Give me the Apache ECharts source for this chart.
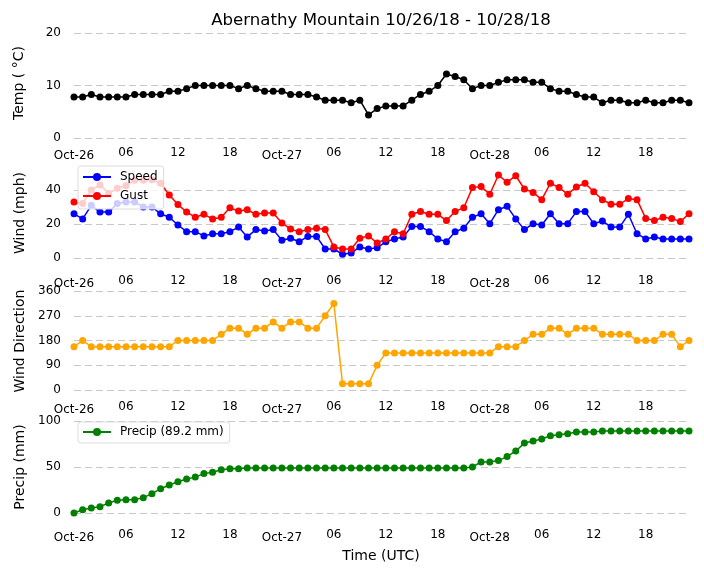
<!DOCTYPE html>
<html>
<head>
    <meta charset="utf-8"/>
    <title>Abernathy Mountain</title>
    <script src="https://cdn.jsdelivr.net/npm/echarts@6/dist/echarts.min.js"></script>
    <style>
        body { margin: 0; background: #fff; }
    </style>
</head>
<body>

<div id="main" style="width: 704px;height:573px;"></div>

<script>
    // hourly values, Oct-26 00 UTC .. Oct-28 23 UTC
    var hours = [];
    for (var i = 0; i < 72; i++) { hours.push(i); }

    var xTickLabels = ['Oct-26', '06', '12', '18', 'Oct-27', '06', '12', '18', 'Oct-28', '06', '12', '18'];

    var temp = [7.8, 7.8, 8.3, 7.8, 7.8, 7.8, 7.8, 8.3, 8.3, 8.3,
        8.3, 8.9, 8.9, 9.4, 10, 10, 10, 10, 10, 9.4,
        10, 9.4, 8.9, 8.9, 8.9, 8.3, 8.3, 8.3, 7.8, 7.2,
        7.2, 7.2, 6.7, 7.2, 4.4, 5.6, 6.1, 6.1, 6.1, 7.2,
        8.3, 8.9, 10, 12.2, 11.7, 11.1, 9.4, 10, 10, 10.6,
        11.1, 11.1, 11.1, 10.6, 10.6, 9.4, 8.9, 8.9, 8.3, 7.8,
        7.8, 6.7, 7.2, 7.2, 6.7, 6.7, 7.2, 6.7, 6.7, 7.2,
        7.2, 6.7];

    var speed = [26, 23, 31, 27, 27, 32, 33, 33, 30, 30,
        26, 24, 19.4, 15.5, 15.5, 13, 14.3, 14.3, 15.5, 18.2,
        12.4, 16.7, 15.9, 16.7, 10.4, 11.6, 9.6, 12.7, 12.7, 5.3,
        5.3, 2.2, 2.9, 6.5, 5.3, 6, 9.6, 11.2, 12.4, 18.6,
        18.6, 15.5, 11.2, 9.6, 15.5, 17.5, 24, 26, 20.2, 28.4,
        30.4, 23, 16.7, 20.2, 19.4, 26, 20.2, 20.2, 27.3, 27.3,
        20.2, 21.8, 18.2, 18.2, 25.7, 14.3, 11.2, 12.4, 11.2, 11.2,
        11.2, 11.2];

    var gust = [33, 32, 40, 43, 38, 41, 42.5, 45.7, 45.7, 46,
        44, 37, 31.5, 27, 24, 25.7, 23, 24, 29.6, 27.6,
        28.4, 25.7, 26.5, 26.5, 20.6, 17, 15.5, 16.7, 17.5, 16.7,
        6.5, 5.3, 5.3, 11.6, 13, 8.8, 11.2, 15.5, 14.3, 25.7,
        27.3, 25.7, 25.7, 22, 27.3, 29.6, 41.4, 42, 37.5, 48.8,
        44.5, 48.4, 40.6, 38.6, 34.3, 44, 41.4, 37.5, 41.8, 44,
        39, 34.3, 31.6, 31.6, 35, 34.3, 23.3, 22, 24, 23.3,
        21.4, 26];

    var direction = [157.5, 180, 157.5, 157.5, 157.5, 157.5, 157.5, 157.5, 157.5, 157.5,
        157.5, 157.5, 180, 180, 180, 180, 180, 202.5, 225, 225,
        202.5, 225, 225, 247.5, 225, 247.5, 247.5, 225, 225, 270,
        315, 22.5, 22.5, 22.5, 22.5, 90, 135, 135, 135, 135,
        135, 135, 135, 135, 135, 135, 135, 135, 135, 157.5,
        157.5, 157.5, 180, 202.5, 202.5, 225, 225, 202.5, 225, 225,
        225, 202.5, 202.5, 202.5, 202.5, 180, 180, 180, 202.5, 202.5,
        157.5, 180];

    var precip = [0, 3.6, 5.4, 6.9, 10.9, 13.8, 14.5, 14.5, 16.7, 21,
        26.4, 30.4, 34, 37, 39, 42.8, 44.2, 47, 48.2, 48.2,
        48.9, 48.9, 48.9, 48.9, 48.9, 48.9, 48.9, 48.9, 48.9, 48.9,
        48.9, 48.9, 48.9, 48.9, 48.9, 48.9, 48.9, 48.9, 48.9, 48.9,
        48.9, 48.9, 48.9, 48.9, 48.9, 48.9, 50, 55.5, 55.5, 57,
        61.3, 67.4, 76, 78.3, 80.4, 84, 85, 86.2, 88, 88,
        88, 89, 89, 89, 89, 89, 89, 89, 89, 89,
        89, 89.2];

    var precipName = 'Precip (' + precip[precip.length - 1].toFixed(1) + ' mm)';

    var font = 'DejaVu Sans';

    function pairs(vals) {
        return vals.map(function (v, i) { return [hours[i], v]; });
    }

    function xAxisFor(idx, margin) {
        return {
            type: 'value', gridIndex: idx, min: 0, max: 71, interval: 6,
            axisLine: {show: false}, axisTick: {show: false}, splitLine: {show: false},
            axisLabel: {
                margin: margin, showMaxLabel: false, color: '#000',
                fontSize: 12, fontFamily: font,
                formatter: function (v) {
                    var t = xTickLabels[v / 6];
                    if (t === undefined) { return ''; }
                    return t.indexOf('Oct') === 0 ? '{d|' + t + '}' : '{h|' + t + '}';
                },
                rich: {
                    d: {fontSize: 12, fontFamily: font, color: '#000', padding: [3, 0, 0, 0]},
                    h: {fontSize: 12, fontFamily: font, color: '#000'}
                }
            }
        };
    }

    function yAxisFor(idx, max, interval) {
        return {
            type: 'value', gridIndex: idx, min: 0, max: max, interval: interval,
            axisLine: {show: false}, axisTick: {show: false},
            splitLine: {lineStyle: {color: '#c8c8c8', type: [7, 4], width: 1}},
            axisLabel: {margin: 13, color: '#000', fontSize: 12, fontFamily: font}
        };
    }

    function lineSeries(name, idx, vals, color) {
        return {
            name: name, type: 'line', xAxisIndex: idx, yAxisIndex: idx,
            data: pairs(vals), clip: false,
            symbol: 'circle', symbolSize: 7,
            lineStyle: {color: color, width: 1.5},
            itemStyle: {color: color}
        };
    }

    function yName(text, x, y) {
        return {
            type: 'text', x: x, y: y, rotation: Math.PI / 2,
            style: {text: text, fill: '#000', fontSize: 14, fontFamily: font, align: 'center', verticalAlign: 'middle'}
        };
    }

    function legendFor(names, top, padding) {
        return {
            data: names, left: 78, top: top, padding: padding,
            orient: 'vertical', itemWidth: 28, itemHeight: 10, itemGap: 7,
            backgroundColor: 'rgba(255,255,255,0.8)', borderColor: '#dcdcdc', borderWidth: 1, borderRadius: 3,
            textStyle: {color: '#000', fontSize: 12, fontFamily: font, padding: [0, 0, 0, 4]}
        };
    }

    var myChart = echarts.init(document.getElementById('main'));

    var option = {
        animation: false,
        backgroundColor: '#fff',
        title: {
            text: 'Abernathy Mountain 10/26/18 - 10/28/18',
            left: 376, top: 7, textAlign: 'center',
            textStyle: {color: '#000', fontSize: 16.6, fontWeight: 'normal', fontFamily: font}
        },
        legend: [
            legendFor(['Speed', 'Gust'], 166, [5, 6, 7, 4]),
            legendFor([precipName], 422, [4, 6, 5, 4])
        ],
        grid: [
            {left: 74, right: 15, top: 33, height: 105},
            {left: 74, right: 15, top: 190, height: 68},
            {left: 74, right: 15, top: 291, height: 99},
            {left: 74, right: 15, top: 421, height: 92}
        ],
        xAxis: [xAxisFor(0, 9), xAxisFor(1, 17), xAxisFor(2, 11), xAxisFor(3, 16)],
        yAxis: [yAxisFor(0, 20, 10), yAxisFor(1, 40, 20), yAxisFor(2, 360, 90), yAxisFor(3, 100, 50)],
        series: [
            lineSeries('Temp', 0, temp, '#000000'),
            lineSeries('Speed', 1, speed, '#0000ff'),
            lineSeries('Gust', 1, gust, '#ff0000'),
            lineSeries('Direction', 2, direction, '#ffa500'),
            lineSeries(precipName, 3, precip, '#008000')
        ],
        graphic: [
            yName('Temp ( °C)', 19, 83),
            yName('Wind (mph)', 20, 213),
            yName('Wind Direction', 20, 341),
            yName('Precip (mm)', 20, 467),
            {
                type: 'text', x: 381, y: 556,
                style: {text: 'Time (UTC)', fill: '#000', fontSize: 14, fontFamily: font, align: 'center', verticalAlign: 'middle'}
            }
        ]
    };

    myChart.setOption(option);
</script>
</body>
</html>
